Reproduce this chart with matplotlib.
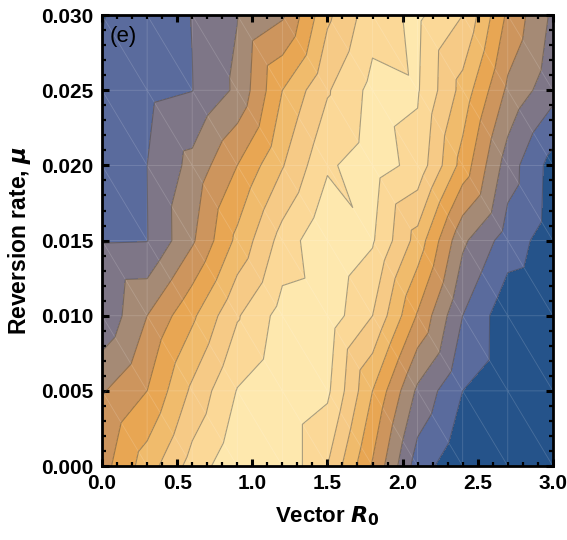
import numpy as np
import matplotlib
matplotlib.use("Agg")
import matplotlib.pyplot as plt
import matplotlib.tri as mtri
from matplotlib.ticker import MultipleLocator, FormatStrFormatter

# Sample grid: vector R0 (columns) x reversion rate mu (rows)
r0_values = [0.0, 0.3, 0.6, 0.9, 1.2, 1.5, 1.8, 2.1, 2.4, 2.7, 3.0]
mu_values = [0.000, 0.005, 0.010, 0.015, 0.020, 0.025, 0.030]

# Response surface, one list per mu row (bottom to top)
row_mu_000 = [4.6, 6.5, 8.4, 9.8, 9.8, 8.0, 4.9, 1.5, 0.2, 0.1, 0.0]
row_mu_005 = [3.9, 5.0, 7.2, 9.05, 9.8, 9.2, 6.0, 2.8, 1.0, 0.3, 0.1]
row_mu_010 = [2.2, 4.0, 5.8, 7.9, 9.4, 9.6, 8.0, 4.9, 2.0, 0.33, 0.1]
row_mu_015 = [1.93, 1.97, 3.85, 6.25, 8.4, 9.9, 9.11, 6.6, 3.2, 1.5, 0.5]
row_mu_020 = [1.3, 2.0, 3.3, 5.0, 6.93, 8.86, 9.48, 8.68, 5.6, 2.5, 0.6]
row_mu_025 = [1.15, 1.75, 1.98, 3.2, 6.0, 7.9, 9.3, 9.1, 6.63, 3.8, 2.36]
row_mu_030 = [0.95, 1.5, 2.02, 2.97, 3.85, 6.8, 8.6, 9.2, 8.0, 4.8, 2.8]

contour_levels = [1, 2, 3, 4, 5, 6, 7, 8, 9]

band_colors = ["#25538a", "#5a6b9d", "#7e7687", "#a58a75", "#cd955d",
               "#e8a653", "#f0bb6c", "#f6ca86", "#fbd897", "#fee8ae"]

rows = [row_mu_000, row_mu_005, row_mu_010, row_mu_015,
        row_mu_020, row_mu_025, row_mu_030]
Z = np.array(rows)
nx, ny = len(r0_values), len(mu_values)
X, Y = np.meshgrid(r0_values, mu_values)

# Split each grid cell along its upper-left / lower-right diagonal
tris = []
for j in range(ny - 1):
    for i in range(nx - 1):
        a = j * nx + i
        b = j * nx + i + 1
        c = (j + 1) * nx + i
        d = (j + 1) * nx + i + 1
        tris.append([a, b, c])
        tris.append([b, d, c])
tri = mtri.Triangulation(X.ravel(), Y.ravel(), np.array(tris))

plt.rcParams["font.family"] = ["Liberation Sans", "DejaVu Sans"]
fig = plt.figure(figsize=(5.67, 5.40), dpi=100)
ax = fig.add_axes([0.180, 0.137, 0.795, 0.835])

zmin, zmax = Z.min(), Z.max()
fill_levels = [min(zmin, 0) - 1] + contour_levels + [zmax + 1]
ax.tricontourf(tri, Z.ravel(), levels=fill_levels, colors=band_colors)
ax.triplot(tri, color="white", alpha=0.16, lw=0.6)
ax.tricontour(tri, Z.ravel(), levels=contour_levels,
              colors=[(0.25, 0.25, 0.25)], alpha=0.45, linewidths=0.8)

ax.set_xlim(0, 3.0)
ax.set_ylim(0, 0.030)
ax.xaxis.set_major_locator(MultipleLocator(0.5))
ax.xaxis.set_minor_locator(MultipleLocator(0.1))
ax.yaxis.set_major_locator(MultipleLocator(0.005))
ax.yaxis.set_minor_locator(MultipleLocator(0.001))
ax.xaxis.set_major_formatter(FormatStrFormatter("%.1f"))
ax.yaxis.set_major_formatter(FormatStrFormatter("%.3f"))
ax.tick_params(which="both", direction="in", top=True, right=True,
               color="black")
ax.tick_params(which="major", length=5, width=2.2, labelsize=15, pad=6)
ax.tick_params(which="minor", length=3, width=1.6)
for lab in ax.get_xticklabels() + ax.get_yticklabels():
    lab.set_fontweight("bold")
for sp in ax.spines.values():
    sp.set_linewidth(2.0)

ax.set_xlabel(r"Vector $\boldsymbol{R}_{\mathbf{0}}$", fontsize=16,
              fontweight="bold", labelpad=8)
ax.set_ylabel(r"Reversion rate, $\boldsymbol{\mu}$", fontsize=16.5,
              fontweight="bold", labelpad=6)
ax.text(0.016, 0.975, "(e)", transform=ax.transAxes, fontsize=16,
        va="top", ha="left")

fig.savefig("out.png", dpi=100)
